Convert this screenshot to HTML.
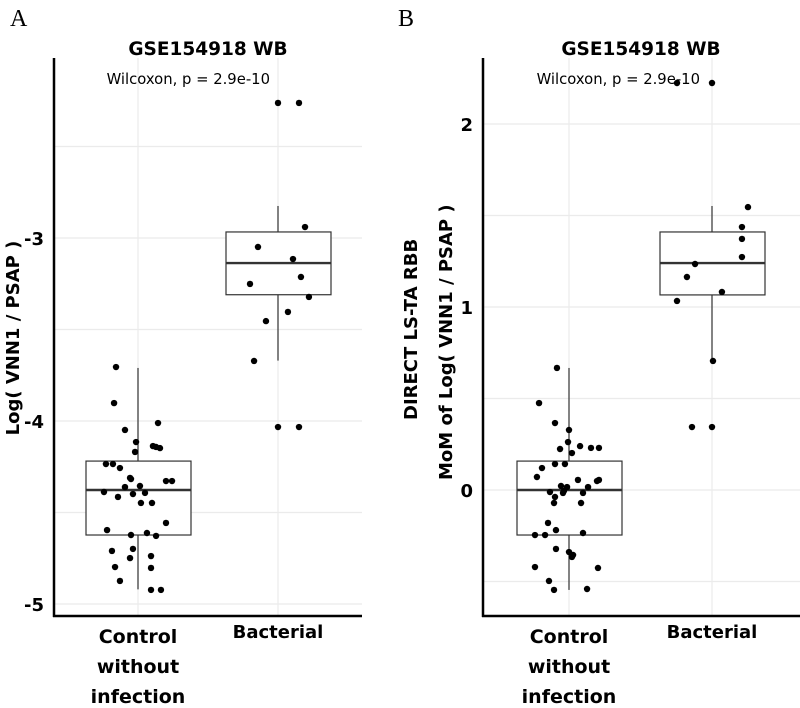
<!DOCTYPE html>
<html><head><meta charset="utf-8"><style>
body{margin:0;background:#fff;}
svg{display:block;font-family:"DejaVu Sans","Liberation Sans",sans-serif;}
</style></head><body>
<svg id="fig" width="800" height="708" viewBox="0 0 800 708" xmlns="http://www.w3.org/2000/svg">
<text x="10" y="26" font-family="Liberation Serif, serif" font-size="24">A</text>
<text x="398" y="26" font-family="Liberation Serif, serif" font-size="24">B</text>
<g id="pa"></g>
<g id="pb"></g>
</svg>
<script>
const categories = ["Control\nwithout\ninfection", "Bacterial"];
// Panel A: Log(VNN1/PSAP)
const aTicks = [-3, -4, -5];
const aBoxCtrl = [-4.92, -4.623, -4.377, -4.219, -3.71];
const aBoxBact = [-3.67, -3.31, -3.137, -2.967, -2.825];
const aCtrlJit = [-0.157,-0.171,-0.093,0.143,-0.014,-0.021,0.107,0.157,0.129,-0.229,-0.179,-0.129,-0.057,-0.05,-0.093,0.014,0.2,0.243,-0.243,-0.143,-0.036,0.05,0.021,0.1,0.2,-0.221,-0.05,0.064,0.129,-0.186,-0.036,-0.057,0.093,-0.164,0.093,-0.129,0.093,0.164];
const aCtrlVal = [-3.705,-3.902,-4.049,-4.011,-4.115,-4.169,-4.137,-4.148,-4.142,-4.235,-4.235,-4.257,-4.311,-4.317,-4.361,-4.355,-4.328,-4.328,-4.388,-4.415,-4.399,-4.393,-4.448,-4.448,-4.557,-4.596,-4.623,-4.612,-4.628,-4.710,-4.699,-4.749,-4.738,-4.798,-4.803,-4.874,-4.923,-4.923];
const aBactJit = [0,0.15,0.193,-0.143,0.107,0.164,-0.2,0.221,0.071,-0.086,-0.171,0,0.15];
const aBactVal = [-2.262,-2.262,-2.940,-3.049,-3.115,-3.213,-3.251,-3.322,-3.404,-3.454,-3.672,-4.033,-4.033];
// Panel B: MoM of Log
const bTicks = [2, 1, 0];
const bBoxCtrl = [-0.546, -0.246, 0, 0.158, 0.667];
const bBoxBact = [0.705, 1.066, 1.24, 1.41, 1.552];
const bCtrlJit = [-0.086,-0.214,-0.1,0,-0.007,0.079,-0.064,0.157,0.214,0.021,-0.1,-0.029,-0.193,-0.229,0.064,0.214,0.2,-0.057,-0.014,0.136,-0.136,-0.036,0.1,-0.1,-0.043,-0.107,0.086,-0.15,-0.093,-0.243,-0.171,0.1,-0.093,0,0.029,0.021,-0.243,0.207,-0.143,-0.107,0.129];
const bCtrlVal = [0.667,0.475,0.366,0.328,0.262,0.240,0.224,0.230,0.230,0.202,0.142,0.142,0.120,0.071,0.055,0.055,0.049,0.022,0.016,0.016,-0.011,-0.005,-0.016,-0.038,-0.016,-0.071,-0.071,-0.180,-0.219,-0.246,-0.246,-0.235,-0.322,-0.339,-0.355,-0.366,-0.421,-0.426,-0.497,-0.546,-0.541];
const bBactJit = [-0.25,0,0.257,0.214,0.214,0.214,-0.121,-0.179,0.071,-0.25,0.007,-0.143,0];
const bBactVal = [2.224,2.224,1.546,1.437,1.372,1.273,1.235,1.164,1.082,1.033,0.705,0.344,0.344];

const NS = "http://www.w3.org/2000/svg";
function mk(parent, tag, attrs, text){
  const e = document.createElementNS(NS, tag);
  for (const k in attrs) e.setAttribute(k, attrs[k]);
  if (text !== undefined) e.textContent = text;
  parent.appendChild(e);
  return e;
}
function panel(g, o){
  const yS = v => o.y0 - (v - o.v0) * 183;
  const xS = i => o.cx[i];
  const top = 58, bottom = 616;
  const minV = o.v0 - (bottom - o.y0)/183, maxV = o.v0 + (o.y0 - top)/183;
  for (let v = Math.ceil(minV*2)/2; v <= maxV; v += 0.5){
    const l = mk(g, "line", {x1:o.ax, x2:o.ax2, y1:yS(v), y2:yS(v), stroke:"#ebebeb", "stroke-width":1.2});
    
    
  }
  categories.forEach((c, i) => {
    const l = mk(g, "line", {x1:xS(i), x2:xS(i), y1:top, y2:bottom, stroke:"#ebebeb", "stroke-width":1.2});
    
    
  });
  [o.boxC, o.boxB].forEach((b, i) => {
    const bg = mk(g, "g", {});
    
    
    const cx = xS(i), hw = 52;
    mk(bg, "line", {x1:cx, x2:cx, y1:yS(b[4]), y2:yS(b[3]), stroke:"#333", "stroke-width":1.2});
    mk(bg, "line", {x1:cx, x2:cx, y1:yS(b[1]), y2:yS(b[0]), stroke:"#333", "stroke-width":1.2});
    mk(bg, "rect", {x:cx-hw, y:yS(b[3]), width:2*hw+1, height:yS(b[1])-yS(b[3]), fill:"#fff", stroke:"#333", "stroke-width":1.2});
    mk(bg, "line", {x1:cx-hw, x2:cx+hw+1, y1:yS(b[2]), y2:yS(b[2]), stroke:"#333", "stroke-width":2.4});
  });
  [[o.cJ, o.cV, 0], [o.bJ, o.bV, 1]].forEach(([J, V, i]) => {
    V.forEach((v, k) => {
      const p = mk(g, "circle", {cx:xS(i) + J[k]*140, cy:yS(v), r:3.2, fill:"#000"});
      
      
    });
  });
  const ya = mk(g, "line", {x1:o.ax, x2:o.ax, y1:top, y2:bottom+1, stroke:"#000", "stroke-width":2.5});
  
  
  const xa = mk(g, "line", {x1:o.ax-1, x2:o.ax2, y1:bottom, y2:bottom, stroke:"#000", "stroke-width":2.5});
  
  
  o.ticks.forEach(t => {
    const tl = mk(g, "text", {x:o.ax-10, y:yS(t)+7, "text-anchor":"end", "font-size":18, "font-weight":"bold"}, String(t));
    
    
  });
  categories.forEach((c, i) => {
    const lines = c.split("\n");
    lines.forEach((ln, j) => {
      const big = lines.length > 1;
      const tx = mk(g, "text", {x:xS(i), y:big ? 643 + j*30 : 638, "text-anchor":"middle", "font-size": big ? 19 : 18, "font-weight":"bold"}, ln);
      
      
    });
  });
  const ti = mk(g, "text", {x:o.tx, y:55, "text-anchor":"middle", "font-size":18.5, "font-weight":"bold"}, "GSE154918 WB");
  
  
  const w = mk(g, "text", {x:o.wx, y:84, "text-anchor":"end", "font-size":14.8}, "Wilcoxon, p = 2.9e-10");
  
  
  o.ytitle.forEach(([txt, x, y, anchor]) => {
    const yt = mk(g, "text", {x:0, y:0, transform:`translate(${x},${y}) rotate(-90)`, "text-anchor":anchor, "font-size":18, "font-weight":"bold"}, txt);
    
    
  });
}
panel(document.getElementById("pa"), {v0:-3, y0:238, ax:54, ax2:362, cx:[138,278], ticks:aTicks,
  boxC:aBoxCtrl, boxB:aBoxBact, cJ:aCtrlJit, cV:aCtrlVal, bJ:aBactJit, bV:aBactVal,
  tx:208, wx:270, ytitle:[["Log( VNN1 / PSAP )", 19, 338, "middle"]]});
panel(document.getElementById("pb"), {v0:0, y0:490, ax:483, ax2:800, cx:[569,712], ticks:bTicks,
  boxC:bBoxCtrl, boxB:bBoxBact, cJ:bCtrlJit, cV:bCtrlVal, bJ:bBactJit, bV:bBactVal,
  tx:641, wx:700, ytitle:[["DIRECT LS-TA RBB", 417, 420, "start"], ["MoM of Log( VNN1 / PSAP )", 452, 480, "start"]]});
</script>
</body></html>
